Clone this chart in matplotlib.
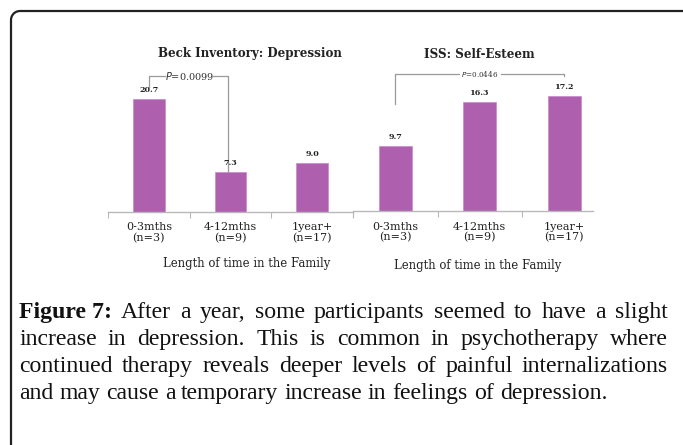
import matplotlib
matplotlib.use("Agg")
import numpy as np
import matplotlib.pyplot as plt
from matplotlib.lines import Line2D

categories = ["0-3mths\n(n=3)", "4-12mths\n(n=9)", "1year+\n(n=17)"]
depression = [20.7, 7.3, 9.0]
self_esteem = [9.7, 16.3, 17.2]
titles = ["Beck Inventory: Depression", "ISS: Self-Esteem"]
xlabel = "Length of time in the Family"
p_dep = "0.0099"
p_ss = "0.0446"
caption_bold = "Figure 7:"
caption_lines = [
    "After a year, some participants seemed to have a slight",
    "increase in depression. This is common in psychotherapy where",
    "continued therapy reveals deeper levels of painful internalizations",
    "and may cause a temporary increase in feelings of depression.",
]

W, H = 683, 445
fig = plt.figure(figsize=(W / 100, H / 100), dpi=100)
fig.patch.set_facecolor("white")

BAR = "#ae5fae"
GREY = "#9a9a9a"
SERIF = "DejaVu Serif"

def fx(px):
    return px / W

def fy(py):
    return 1 - py / H

# border: left + top with rounded corner
r = 9
ang = np.linspace(np.pi, np.pi / 2, 12)
cx, cy = 11 + r, 11 + r
px_path = [11] + list(cx + r * np.cos(ang)) + [690]
py_path = [460] + list(cy - r * np.sin(ang)) + [11]
fig.add_artist(Line2D([fx(p) for p in px_path], [fy(p) for p in py_path],
                      transform=fig.transFigure, color="#222222", lw=1.6,
                      solid_capstyle="butt"))

def make_axes(left_px, right_px, base_px, px_per_unit, ymax, xmax):
    ax = fig.add_axes([fx(left_px), fy(base_px), fx(right_px - left_px),
                       ymax * px_per_unit / H])
    ax.set_xlim(-0.5, xmax)
    ax.set_ylim(0, ymax)
    for s in ["top", "right", "left"]:
        ax.spines[s].set_visible(False)
    ax.spines["bottom"].set_color("#b8b8b8")
    ax.spines["bottom"].set_linewidth(1.0)
    ax.set_yticks([])
    ax.patch.set_alpha(0)
    return ax

x = [0, 1, 2]

# left chart
ax1 = make_axes(108, 353, 212, 5.46, 26, 2.5)
ax1.bar(x, depression, width=0.39, color=BAR, edgecolor="#c98ac9", linewidth=0.5)
ax1.set_xticks([-0.5, 0.5, 1.5, 2.5])
ax1.set_xticklabels([])
ax1.tick_params(axis="x", length=4, color="#b8b8b8", direction="out")
for xi, v in zip(x, depression):
    ax1.text(xi, v + 0.9, f"{v:.1f}", ha="center", va="bottom", fontsize=5.8,
             fontweight="bold", family=SERIF, color="#222222")
for xi, lab in zip(x, categories):
    ax1.text(xi, -1.9, lab, ha="center", va="top", fontsize=8, family=SERIF,
             color="#222222", linespacing=1.05)
ax1.text(1.2, -8.2, xlabel, ha="center", va="top", fontsize=8.4, family=SERIF,
         color="#222222")

y_top = 25.0
ax1.plot([0, 0, 0.2], [22.9, y_top, y_top], color=GREY, lw=0.9, clip_on=False)
ax1.plot([0.78, 0.97, 0.97], [y_top, y_top, 7.4], color=GREY, lw=0.9, clip_on=False)
ax1.text(0.5, y_top, f"$P$={p_dep}", ha="center", va="center", fontsize=7,
         family=SERIF, color="#333333")

# right chart
ax2 = make_axes(353, 593, 211, 6.66, 22, 2.34)
ax2.bar(x, self_esteem, width=0.39, color=BAR, edgecolor="#c98ac9", linewidth=0.5)
ax2.set_xticks([-0.5, 0.5, 1.5])
ax2.set_xticklabels([])
ax2.tick_params(axis="x", length=4, color="#b8b8b8", direction="out")
for xi, v in zip(x, self_esteem):
    ax2.text(xi, v + 0.75, f"{v:.1f}", ha="center", va="bottom", fontsize=5.8,
             fontweight="bold", family=SERIF, color="#222222")
for xi, lab in zip(x, categories):
    ax2.text(xi, -1.6, lab, ha="center", va="top", fontsize=8, family=SERIF,
             color="#222222", linespacing=1.05)
ax2.text(0.97, -7.2, xlabel, ha="center", va="top", fontsize=8.4, family=SERIF,
         color="#222222")

y2 = 20.6
ax2.plot([0, 0, 0.75], [16.1, y2, y2], color=GREY, lw=0.9, clip_on=False)
ax2.plot([1.25, 2.0, 2.0], [y2, y2, 20.2], color=GREY, lw=0.9, clip_on=False)
ax2.text(1.0, y2, f"$P$={p_ss}", ha="center", va="center", fontsize=5.2,
         family=SERIF, color="#333333")

# titles
fig.text(fx(250), fy(53), titles[0], ha="center", va="center", fontsize=8.6,
         fontweight="bold", family=SERIF, color="#222222")
fig.text(fx(479), fy(55), titles[1], ha="center", va="center", fontsize=8.6,
         fontweight="bold", family=SERIF, color="#222222")

# justified caption with the reference's line breaks
CAP_FONT = "Liberation Serif"
left_px, right_px = 19, 668
last_line_right = 612
baselines = [318, 345, 372, 399]
renderer = fig.canvas.get_renderer()

def width_of(s, size, bold=False):
    t = fig.text(0, 0, s, fontsize=size, family=CAP_FONT,
                 fontweight="bold" if bold else "normal")
    w = t.get_window_extent(renderer).width
    t.remove()
    return w

base_size = 15.0
CAP_SIZE = base_size * (last_line_right - left_px) / width_of(caption_lines[-1], base_size)
CAP_SIZE = min(CAP_SIZE, 17.2)

avail = right_px - left_px
space_w = width_of("a b", CAP_SIZE) - width_of("ab", CAP_SIZE)
for li, text_line in enumerate(caption_lines):
    toks = [(w, False) for w in text_line.split()]
    if li == 0:
        toks = [(caption_bold, True)] + toks
    ws = [width_of(t, CAP_SIZE, b) for t, b in toks]
    gaps = len(toks) - 1
    if li < len(caption_lines) - 1 and gaps > 0:
        gap = (avail - sum(ws)) / gaps
    else:
        gap = space_w
    xpos = left_px
    for (tok, bold), w in zip(toks, ws):
        fig.text(fx(xpos), fy(baselines[li]), tok,
                 fontsize=CAP_SIZE, family=CAP_FONT,
                 fontweight="bold" if bold else "normal",
                 ha="left", va="baseline", color="#111111")
        xpos += w + gap

fig.savefig("out.png", dpi=100, facecolor="white")
